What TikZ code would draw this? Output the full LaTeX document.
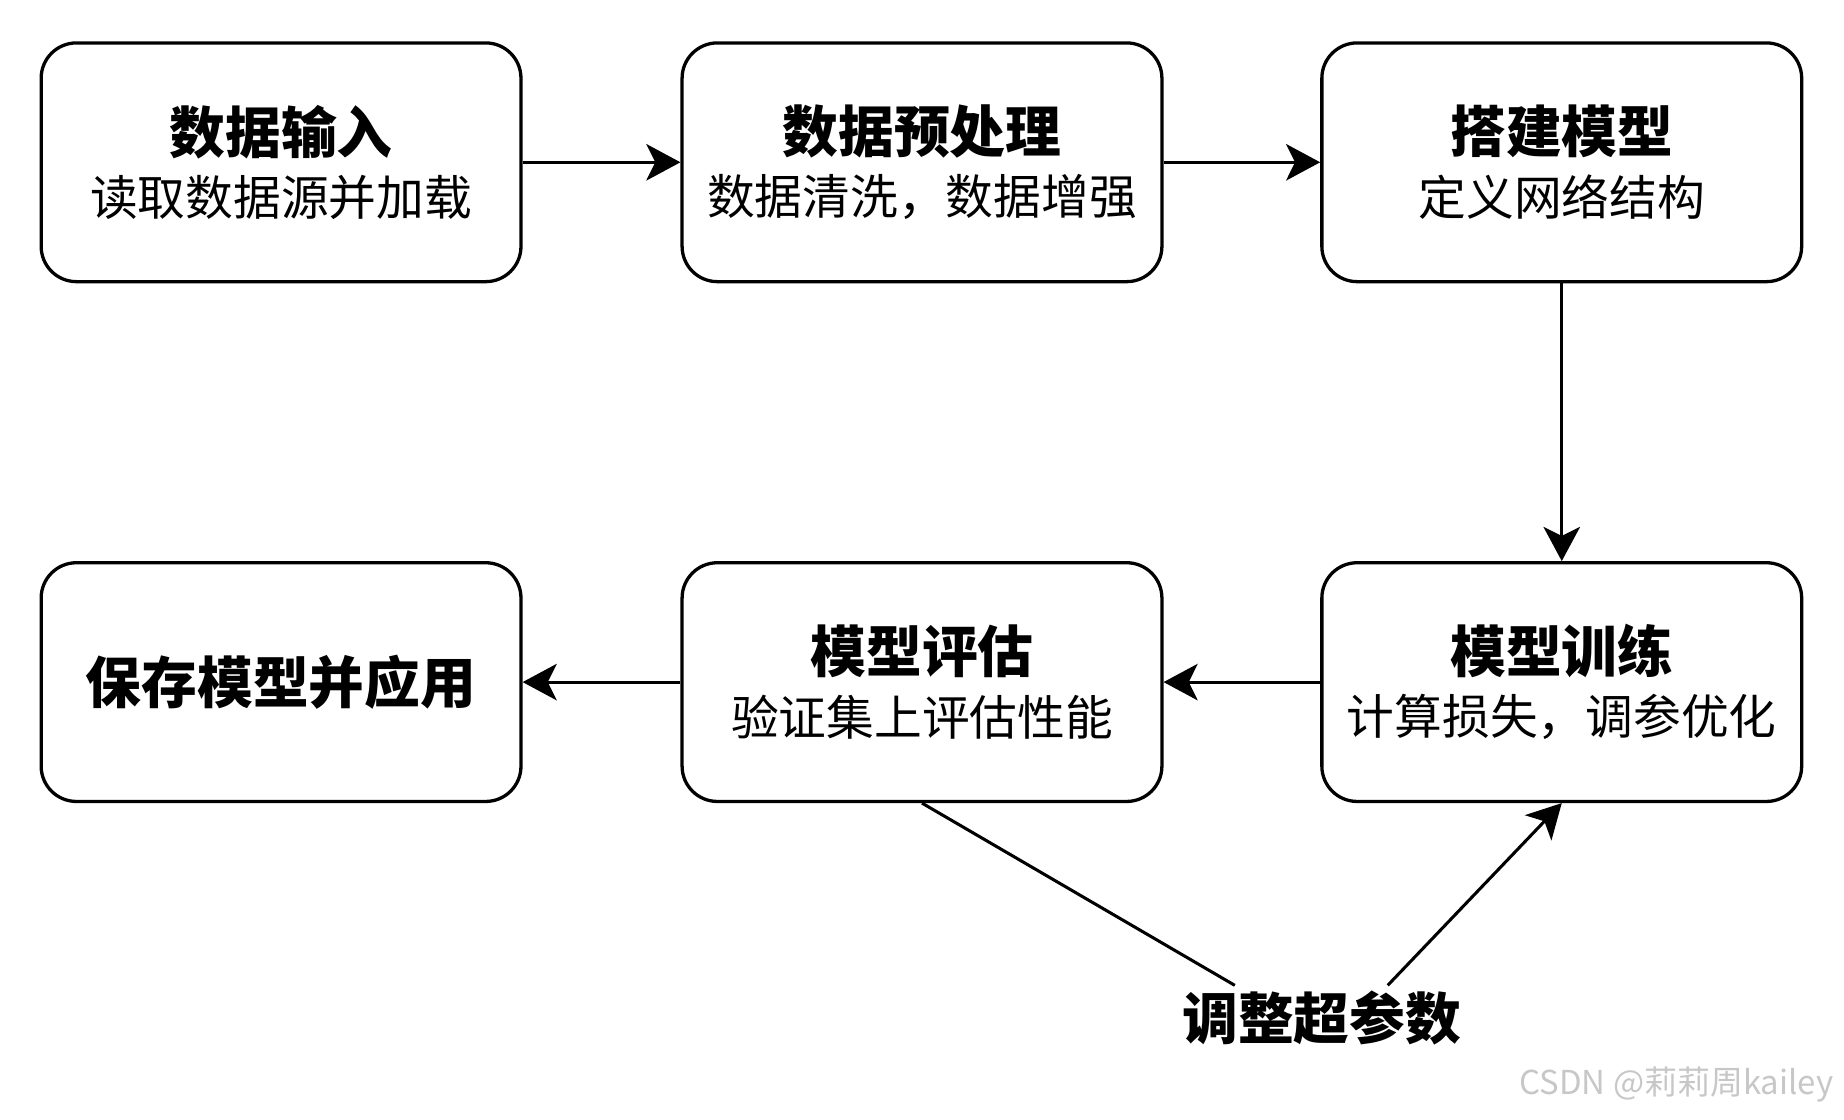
\documentclass[tikz,border=0pt]{standalone}
\usepackage{fontspec}
\setmainfont{Noto Sans CJK SC}
\usetikzlibrary{arrows.meta}
\tikzset{
  stagebox/.style={draw,line width=1.4pt,rounded corners=15pt,minimum width=204pt,minimum height=101.5pt,align=center,font=\fontsize{20.3}{26.5}\selectfont},
  flow/.style={line width=1.3pt,-{Stealth[length=14.5pt,width=15.5pt,inset=3.8pt]}},
  plain/.style={line width=1.3pt}
}
\newcommand{\ttl}[1]{{\fontsize{23.7}{26.5}\selectfont\bfseries #1}}
\begin{document}
\begin{tikzpicture}[x=0.5pt,y=-0.5pt]
\useasboundingbox (0,0) rectangle (1568,952);
\node[stagebox] (input) at (239,138) {\ttl{数据输入}\\读取数据源并加载};
\node[stagebox] (prep) at (784,138) {\ttl{数据预处理}\\数据清洗，数据增强};
\node[stagebox] (build) at (1328,138) {\ttl{搭建模型}\\定义网络结构};
\node[stagebox] (train) at (1328,580) {\ttl{模型训练}\\计算损失，调参优化};
\node[stagebox] (eval) at (784,580) {\ttl{模型评估}\\验证集上评估性能};
\node[stagebox,font=\fontsize{23.7}{26.5}\selectfont\bfseries] (save) at (239,580) {保存模型并应用};
\node[font=\fontsize{23.7}{26.5}\selectfont\bfseries] (tune) at (1124,866) {调整超参数};
\draw[flow] (input) -- (prep);
\draw[flow] (prep) -- (build);
\draw[flow] (build) -- (train);
\draw[flow] (train) -- (eval);
\draw[flow] (eval) -- (save);
\draw[plain] (eval.south) -- ([xshift=-37pt,yshift=-1pt]tune.north);
\draw[flow] ([xshift=28pt,yshift=-1pt]tune.north) -- (train.south);
% watermark
\node[text=black!22,font=\fontsize{14}{16}\selectfont,anchor=east] (mark) at (1566,922) {CSDN @莉莉周kailey};
\end{tikzpicture}
\end{document}
